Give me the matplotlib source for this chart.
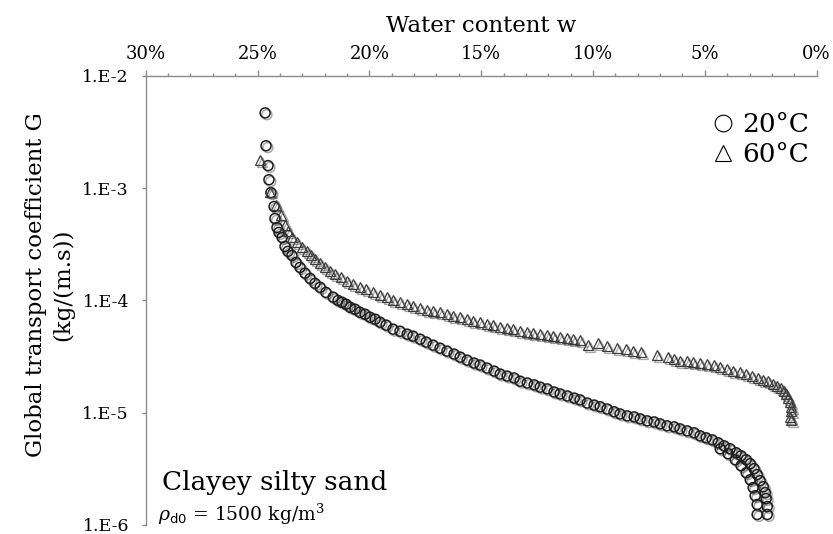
import numpy as np
import matplotlib
matplotlib.use("Agg")
import matplotlib.pyplot as plt
import matplotlib.patheffects as pe
from matplotlib.lines import Line2D
from matplotlib.ticker import FixedLocator, MultipleLocator, FuncFormatter

plt.rcParams['font.family'] = ['DejaVu Serif', 'DejaVu Sans']
plt.rcParams['mathtext.fontset'] = 'dejavuserif'

# Water content w (%) and global transport coefficient G (kg/(m.s)) at 20 °C
w_20 = [24.66, 24.62, 24.53, 24.49, 24.40, 24.26, 24.22, 24.13, 24.04, 23.90,
        23.77, 23.64, 23.46, 23.28, 23.10, 22.88, 22.65, 22.43, 22.20, 21.94,
        21.62, 21.40, 21.22, 21.04, 20.86, 20.64, 20.42, 20.19, 19.97, 19.74,
        19.52, 19.25, 18.94, 18.63, 18.31, 18.05, 17.73, 17.46, 17.15, 16.84,
        16.53, 16.21, 15.94, 15.63, 15.32, 15.05, 14.74, 14.42, 14.15, 13.84,
        13.53, 13.26, 12.94, 12.63, 12.36, 12.05, 11.74, 11.47, 11.15, 10.84,
        10.58, 10.26, 9.95, 9.68, 9.37, 9.06, 8.79, 8.47, 8.16, 7.89,
        7.58, 7.27, 7.00, 6.69, 6.37, 6.11, 5.79, 5.48, 5.21, 4.94,
        4.67, 4.40, 4.14, 3.87, 3.60, 3.38, 3.15, 2.97, 2.80, 2.66,
        2.53, 2.39, 2.30, 2.26, 2.21, 2.21,
        4.31, 3.96, 3.64, 3.38, 3.15, 2.97, 2.84, 2.75, 2.66, 2.66]
G_20 = [4.69e-3, 2.39e-3, 1.59e-3, 1.19e-3, 9.14e-4, 6.87e-4, 5.37e-4, 4.47e-4, 4.04e-4, 3.64e-4,
        3.03e-4, 2.74e-4, 2.52e-4, 2.18e-4, 1.97e-4, 1.75e-4, 1.57e-4, 1.42e-4, 1.31e-4, 1.18e-4,
        1.07e-4, 1.00e-4, 9.64e-5, 9.25e-5, 8.70e-5, 8.36e-5, 7.85e-5, 7.54e-5, 7.09e-5, 6.81e-5,
        6.40e-5, 6.03e-5, 5.55e-5, 5.32e-5, 5.01e-5, 4.81e-5, 4.52e-5, 4.26e-5, 4.00e-5, 3.76e-5,
        3.54e-5, 3.33e-5, 3.13e-5, 2.94e-5, 2.77e-5, 2.66e-5, 2.50e-5, 2.35e-5, 2.21e-5, 2.12e-5,
        2.04e-5, 1.91e-5, 1.84e-5, 1.77e-5, 1.69e-5, 1.63e-5, 1.53e-5, 1.47e-5, 1.41e-5, 1.35e-5,
        1.30e-5, 1.22e-5, 1.17e-5, 1.13e-5, 1.08e-5, 1.02e-5, 9.75e-6, 9.37e-6, 9.18e-6, 8.81e-6,
        8.46e-6, 8.28e-6, 7.96e-6, 7.64e-6, 7.48e-6, 7.18e-6, 6.89e-6, 6.62e-6, 6.22e-6, 5.97e-6,
        5.73e-6, 5.39e-6, 5.07e-6, 4.77e-6, 4.40e-6, 4.13e-6, 3.81e-6, 3.51e-6, 3.17e-6, 2.81e-6,
        2.48e-6, 2.19e-6, 1.94e-6, 1.72e-6, 1.46e-6, 1.24e-6,
        4.77e-6, 4.31e-6, 3.81e-6, 3.37e-6, 2.92e-6, 2.53e-6, 2.15e-6, 1.82e-6, 1.52e-6, 1.24e-6]

# Same quantities at 60 °C
w_60 = [24.89, 24.44, 24.17, 23.95, 23.77, 23.64, 23.46, 23.23, 23.01, 22.79,
        22.61, 22.43, 22.20, 21.98, 21.76, 21.53, 21.27, 21.00, 20.73, 20.42,
        20.15, 19.83, 19.52, 19.21, 18.94, 18.63, 18.31, 18.05, 17.73, 17.42,
        17.15, 16.84, 16.53, 16.26, 15.94, 15.63, 15.36, 15.05, 14.74, 14.47,
        14.15, 13.84, 13.57, 13.26, 12.94, 12.68, 12.36, 12.05, 11.78, 11.47,
        11.15, 10.89, 10.58, 10.22, 9.77, 9.37, 8.92, 8.52, 8.20, 7.85,
        7.13, 6.64, 6.37, 6.11, 5.79, 5.52, 5.21, 4.89, 4.58, 4.31,
        4.00, 3.73, 3.42, 3.15, 2.89, 2.62, 2.39, 2.17, 1.94, 1.76,
        1.59, 1.45, 1.36, 1.27, 1.18, 1.14, 1.14, 1.18, 1.14]
G_60 = [1.79e-3, 9.33e-4, 7.15e-4, 5.83e-4, 4.75e-4, 4.12e-4, 3.64e-4, 3.29e-4, 2.97e-4, 2.74e-4,
        2.52e-4, 2.32e-4, 2.14e-4, 1.97e-4, 1.82e-4, 1.71e-4, 1.61e-4, 1.48e-4, 1.39e-4, 1.31e-4,
        1.26e-4, 1.18e-4, 1.11e-4, 1.07e-4, 1.00e-4, 9.64e-5, 9.25e-5, 8.88e-5, 8.53e-5, 8.19e-5,
        8.02e-5, 7.85e-5, 7.54e-5, 7.24e-5, 7.09e-5, 6.81e-5, 6.53e-5, 6.40e-5, 6.15e-5, 6.03e-5,
        5.78e-5, 5.66e-5, 5.55e-5, 5.32e-5, 5.22e-5, 5.11e-5, 5.01e-5, 4.91e-5, 4.81e-5, 4.71e-5,
        4.62e-5, 4.52e-5, 4.43e-5, 4.00e-5, 4.17e-5, 3.92e-5, 3.76e-5, 3.69e-5, 3.54e-5, 3.47e-5,
        3.26e-5, 3.13e-5, 3.01e-5, 2.88e-5, 2.88e-5, 2.82e-5, 2.77e-5, 2.71e-5, 2.66e-5, 2.55e-5,
        2.45e-5, 2.35e-5, 2.30e-5, 2.21e-5, 2.12e-5, 2.04e-5, 1.95e-5, 1.91e-5, 1.80e-5, 1.73e-5,
        1.66e-5, 1.56e-5, 1.47e-5, 1.35e-5, 1.25e-5, 1.13e-5, 1.04e-5, 9.18e-6, 8.63e-6]

x_ticks = [30, 25, 20, 15, 10, 5, 0]
y_ticks = [1e-2, 1e-3, 1e-4, 1e-5, 1e-6]
series_labels = ["20°C", "60°C"]

fig = plt.figure(figsize=(8.33, 5.34), dpi=100)
ax = fig.add_axes([0.1749, 0.0169, 0.8055, 0.8408])

shadow = [pe.SimpleLineShadow(offset=(1.3, -1.3), shadow_color='k', alpha=0.35, rho=0.5),
          pe.Normal()]

ax.plot(w_20, G_20, linestyle='none', marker='o', markersize=7.2,
        markerfacecolor='none', markeredgecolor='#1c1c1c', markeredgewidth=1.1,
        path_effects=shadow, zorder=3)
ax.plot(w_60, G_60, linestyle='none', marker='^', markersize=7.2,
        markerfacecolor='none', markeredgecolor='#3c3c3c', markeredgewidth=0.9,
        path_effects=shadow, zorder=4)

ax.set_yscale('log')
ax.set_xlim(30, 0)
ax.set_ylim(1e-6, 1e-2)

# x axis on top, in percent
ax.xaxis.tick_top()
ax.xaxis.set_label_position('top')
ax.xaxis.set_major_locator(FixedLocator(x_ticks))
ax.xaxis.set_minor_locator(MultipleLocator(1))
ax.xaxis.set_major_formatter(FuncFormatter(lambda v, p: f"{int(round(v))}%"))
ax.set_xlabel("Water content w", fontsize=16.5, labelpad=10)

ax.yaxis.set_major_locator(FixedLocator(y_ticks))
ax.yaxis.set_minor_locator(FixedLocator([]))
ax.yaxis.set_major_formatter(FuncFormatter(lambda v, p: f"1.E{int(round(np.log10(v)))}"))
ax.set_ylabel("Global transport coefficient G\n(kg/(m.s))", fontsize=16.5,
              linespacing=1.3)
ax.yaxis.set_label_coords(-0.107, 0.535)

axis_grey = '#8c8c8c'
for side in ('right', 'bottom'):
    ax.spines[side].set_visible(False)
for side in ('top', 'left'):
    ax.spines[side].set_color(axis_grey)
    ax.spines[side].set_linewidth(1.0)

ax.tick_params(axis='x', which='major', direction='out', length=4, width=1,
               color=axis_grey, labelsize=13, pad=5)
ax.tick_params(axis='x', which='minor', direction='out', length=2.5, width=1,
               color=axis_grey)
ax.tick_params(axis='y', which='major', direction='out', length=3, width=1,
               color=axis_grey, labelsize=12.5, pad=9)

handles = [Line2D([], [], linestyle='none', marker='o', markersize=12,
                  markerfacecolor='none', markeredgecolor='black', markeredgewidth=0.8),
           Line2D([], [], linestyle='none', marker='^', markersize=12,
                  markerfacecolor='none', markeredgecolor='black', markeredgewidth=0.8)]
ax.legend(handles, series_labels, loc='upper right', frameon=False, fontsize=19,
          handlelength=0.8, handletextpad=0.35, labelspacing=0.2,
          borderaxespad=0.0, bbox_to_anchor=(1.005, 0.943))

ax.text(0.024, 0.077, "Clayey silty sand", transform=ax.transAxes,
        fontsize=19, va='baseline', ha='left')
ax.text(0.018, 0.010, r"$\rho_{\mathsf{d0}}$ = 1500 kg/m$^3$", transform=ax.transAxes,
        fontsize=13.5, va='baseline', ha='left')

fig.savefig("out.png", dpi=100)
